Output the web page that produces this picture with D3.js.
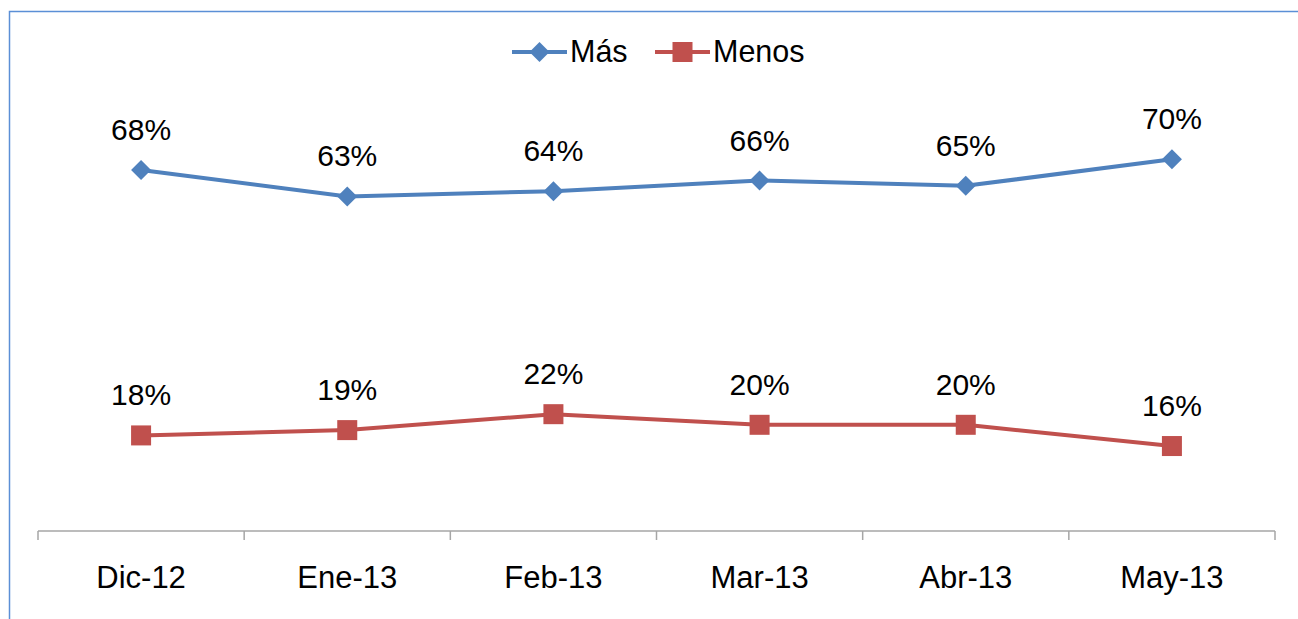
<!DOCTYPE html>
<html>
<head>
<meta charset="utf-8">
<script src="https://cdn.jsdelivr.net/npm/d3@7"></script>
<style>
  body { margin: 0; background: #fff; }
  svg { display: block; font-family: "Liberation Sans", Arial, sans-serif; }
</style>
</head>
<body>
<svg id="chart" width="1298" height="619"></svg>
<script>
// data
const months = ["Dic-12", "Ene-13", "Feb-13", "Mar-13", "Abr-13", "May-13"];
const mas = [0.68, 0.63, 0.64, 0.66, 0.65, 0.70];
const menos = [0.18, 0.19, 0.22, 0.20, 0.20, 0.16];

const blue = "#4F81BD";
const red = "#C0504D";

const svg = d3.select("#chart");

// frame (only top and left edges show)
svg.append("path")
    .attr("d", "M9.5,619 V11.5 H1298")
    .attr("fill", "none")
    .attr("stroke", "#5b8fd6")
    .attr("stroke-width", 1.5);

const x = d3.scaleBand().domain(months).range([38, 1275]);
const y = d3.scaleLinear().domain([0, 1]).range([531, 0]);

// category axis
const axis = d3.axisBottom(x).tickSize(0).tickPadding(35);
const gx = svg.append("g")
    .attr("transform", "translate(0,531)")
    .call(axis);
gx.select(".domain").attr("stroke", "#a6a6a6").attr("stroke-width", 1.5).attr("d", "M38,0H1275");
gx.selectAll(".tick text")
    .attr("font-size", 31)
    .attr("fill", "#000")
    .attr("font-family", "Liberation Sans, Arial, sans-serif");

// tick marks between categories
const bounds = d3.range(months.length + 1).map(i => x.range()[0] + i * x.bandwidth());
gx.selectAll("line.sep")
    .data(bounds)
    .enter().append("line")
    .attr("class", "sep")
    .attr("x1", d => d).attr("x2", d => d)
    .attr("y1", 0).attr("y2", 9)
    .attr("stroke", "#a6a6a6")
    .attr("stroke-width", 1.5);

const cx = d => x(d) + x.bandwidth() / 2;

const series = [
    { name: "Más", values: mas, color: blue, shape: "diamond" },
    { name: "Menos", values: menos, color: red, shape: "square" }
];

const line = d3.line()
    .x((d, i) => cx(months[i]))
    .y(d => y(d));

function marker(g, shape, color) {
    if (shape === "diamond") {
        g.append("path")
            .attr("d", "M0,-10 L10,0 L0,10 L-10,0 Z")
            .attr("fill", color);
    } else {
        g.append("rect")
            .attr("x", -10).attr("y", -10)
            .attr("width", 20).attr("height", 20)
            .attr("fill", color);
    }
}

series.forEach(s => {
    svg.append("path")
        .datum(s.values)
        .attr("d", line)
        .attr("fill", "none")
        .attr("stroke", s.color)
        .attr("stroke-width", 4);

    s.values.forEach((v, i) => {
        const g = svg.append("g")
            .attr("transform", `translate(${cx(months[i])},${y(v)})`);
        marker(g, s.shape, s.color);
        g.append("text")
            .attr("y", -30)
            .attr("text-anchor", "middle")
            .attr("font-size", 30)
            .attr("fill", "#000")
            .text(d3.format(".0%")(v));
    });
});

// legend
const legendX = [512, 655];
series.forEach((s, i) => {
    const g = svg.append("g").attr("transform", `translate(${legendX[i]},52)`);
    g.append("line")
        .attr("x1", 0).attr("x2", 55)
        .attr("stroke", s.color)
        .attr("stroke-width", 4);
    const m = g.append("g").attr("transform", "translate(27.5,0)");
    marker(m, s.shape, s.color);
    g.append("text")
        .attr("x", 58)
        .attr("y", 10)
        .attr("font-size", 30.5)
        .attr("fill", "#000")
        .text(s.name);
});
</script>
</body>
</html>
